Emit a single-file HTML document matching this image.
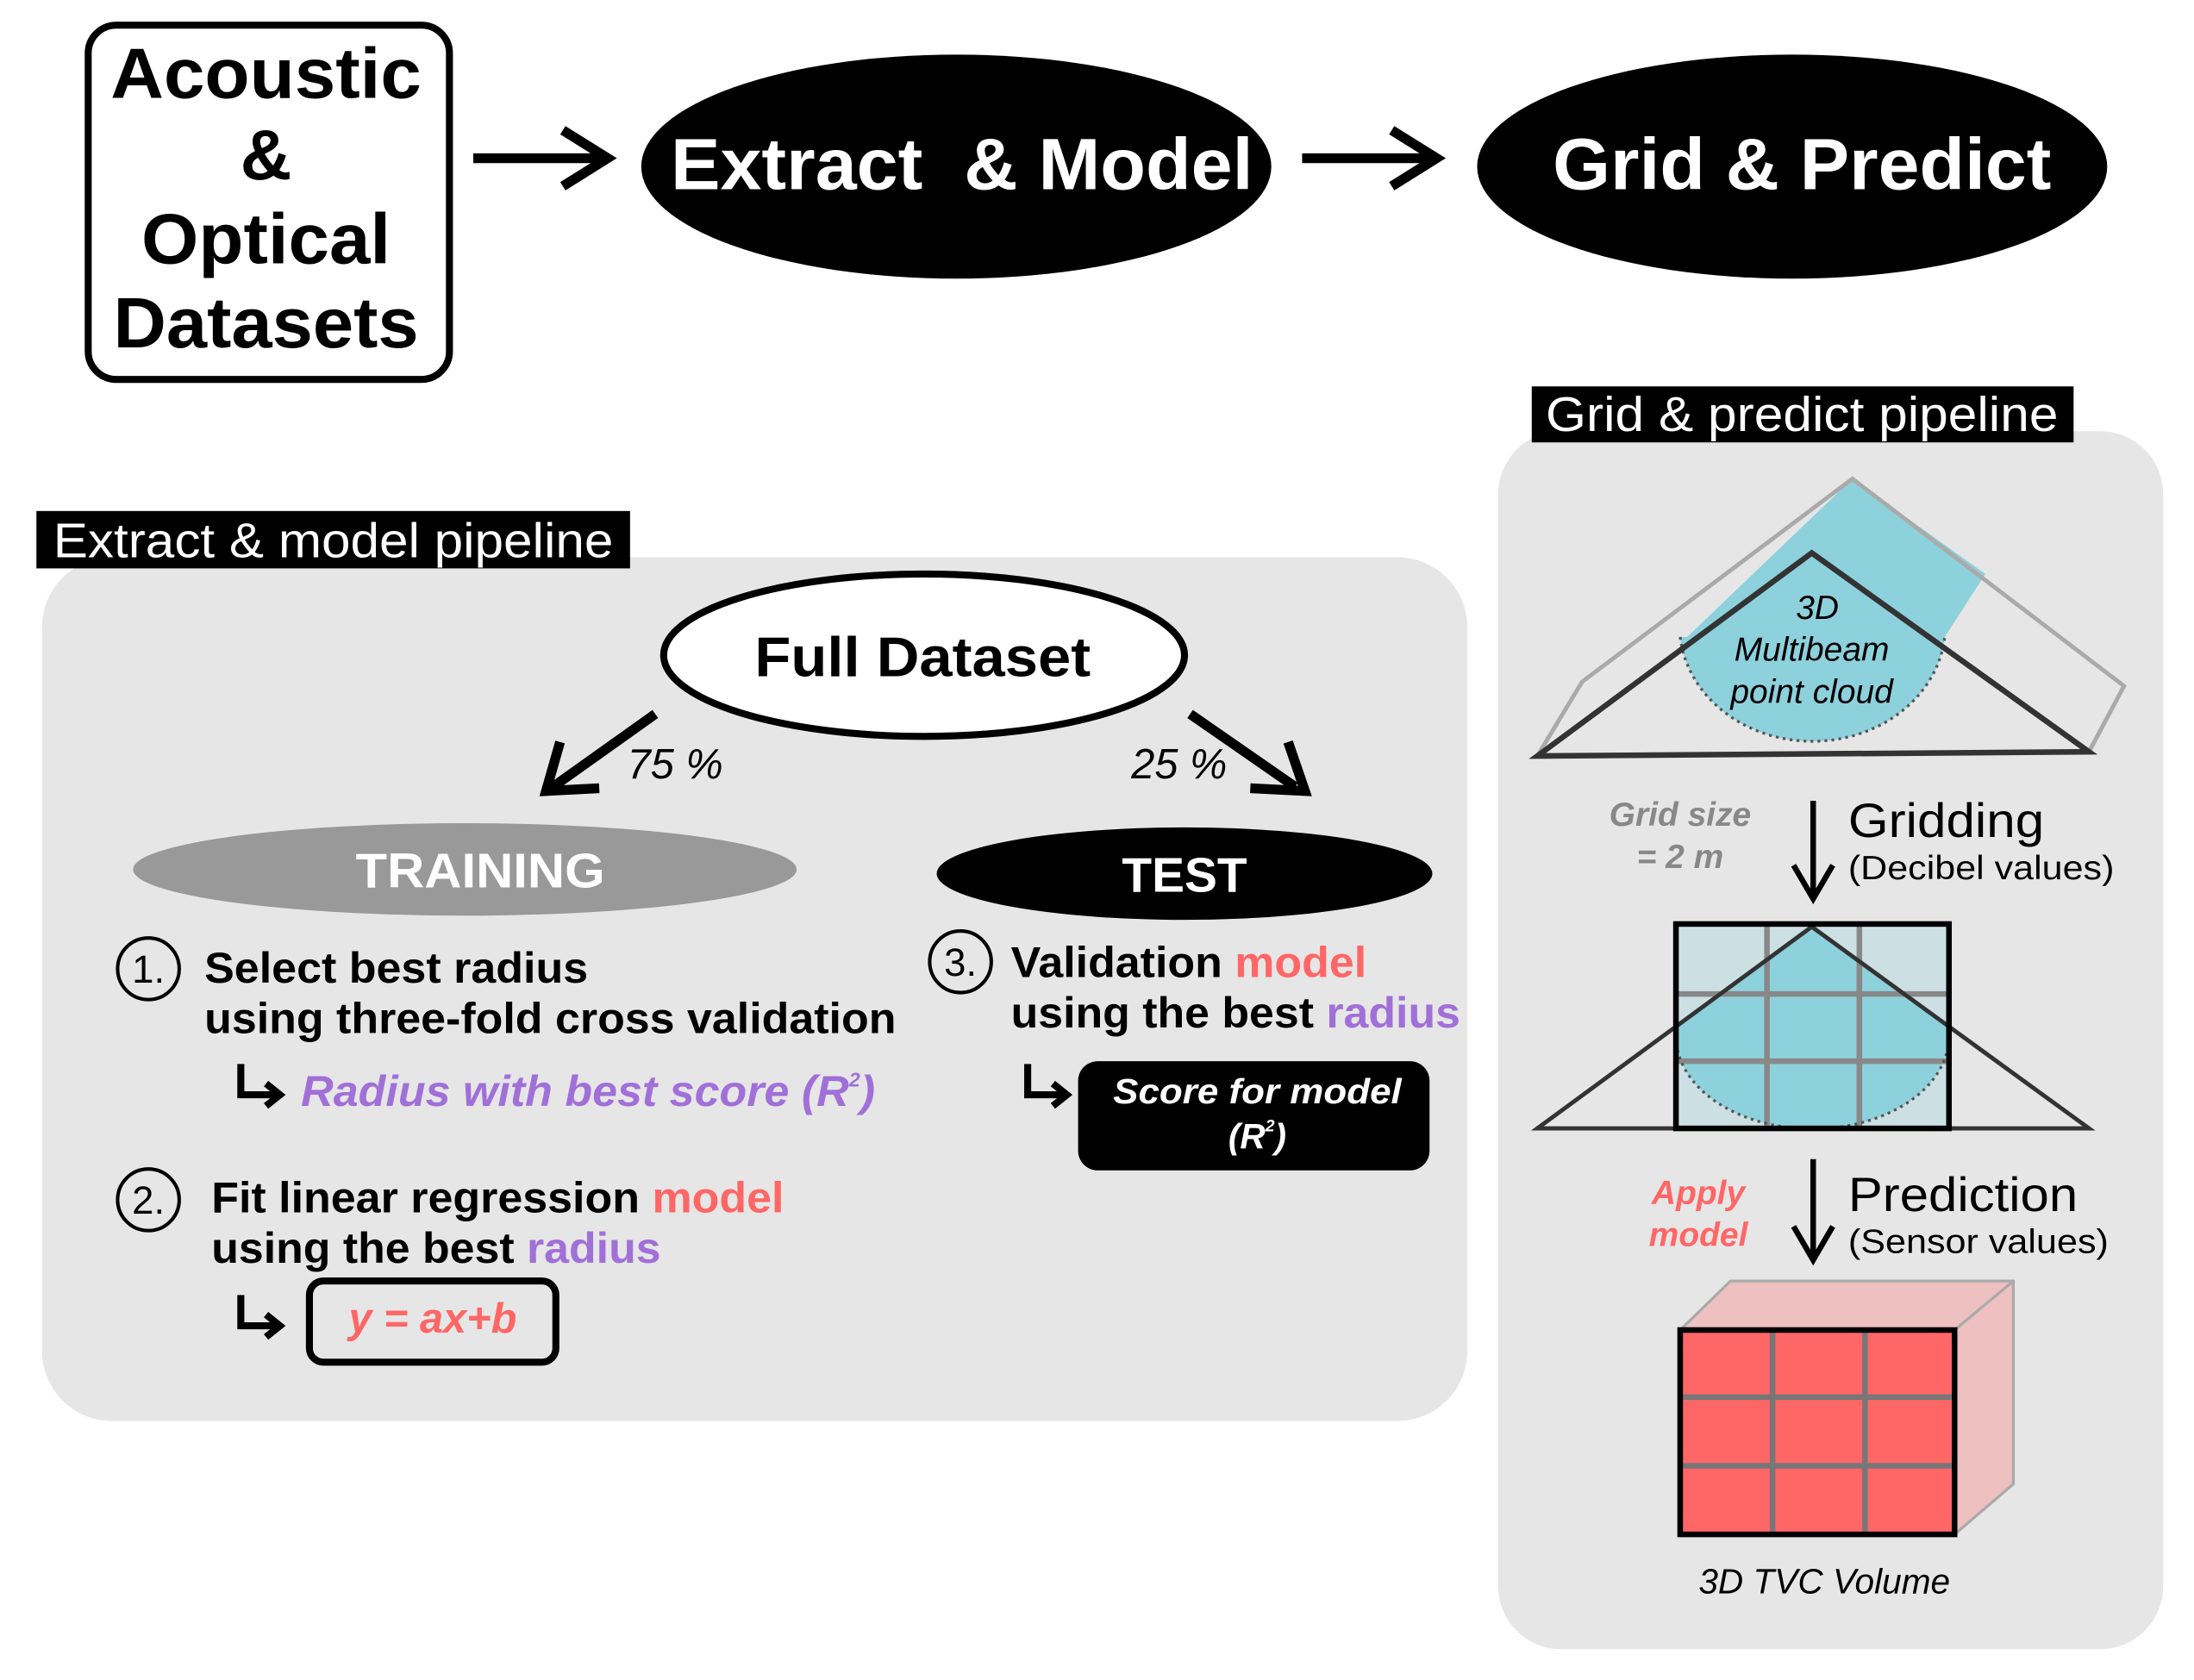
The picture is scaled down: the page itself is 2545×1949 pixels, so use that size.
<!DOCTYPE html>
<html><head><meta charset="utf-8"><style>
html,body{margin:0;padding:0;background:#fff;}
svg{display:block;}
text{font-family:"Liberation Sans",Arial,sans-serif;}
</style></head><body>
<svg width="2545" height="1949" viewBox="0 0 1567 1200" preserveAspectRatio="none" xmlns="http://www.w3.org/2000/svg">
<!-- top row -->
<rect x="63" y="18" width="258" height="253" rx="20" fill="#fff" stroke="#000" stroke-width="5"/>
<g font-weight="bold" font-size="51" text-anchor="middle">
<text x="190" y="70" textLength="222" lengthAdjust="spacingAndGlyphs">Acoustic</text>
<text x="190" y="128">&amp;</text>
<text x="190" y="188" textLength="178" lengthAdjust="spacingAndGlyphs">Optical</text>
<text x="190" y="248" textLength="218" lengthAdjust="spacingAndGlyphs">Datasets</text>
</g>
<g stroke="#000" stroke-width="7" fill="none">
<line x1="338" y1="113" x2="432" y2="113"/>
<polyline points="402,93 434,113 402,133"/>
<line x1="930" y1="113" x2="1024" y2="113"/>
<polyline points="994,93 1026,113 994,133"/>
</g>
<ellipse cx="683" cy="119" rx="225" ry="80" fill="#000"/>
<text x="687" y="135" font-size="52" font-weight="bold" fill="#fff" text-anchor="middle" textLength="416" lengthAdjust="spacingAndGlyphs">Extract &#160;&amp; Model</text>
<ellipse cx="1280" cy="119" rx="225" ry="80" fill="#000"/>
<text x="1287" y="135" font-size="52" font-weight="bold" fill="#fff" text-anchor="middle" textLength="356" lengthAdjust="spacingAndGlyphs">Grid &amp; Predict</text>

<!-- left panel -->
<rect x="30" y="398" width="1018" height="617" rx="50" fill="#e6e6e6"/>
<rect x="26" y="365" width="424" height="41" fill="#000"/>
<text x="238" y="398" font-size="35" fill="#fff" text-anchor="middle" textLength="400" lengthAdjust="spacingAndGlyphs">Extract &amp; model pipeline</text>
<ellipse cx="660" cy="468" rx="186" ry="58" fill="#fff" stroke="#000" stroke-width="5"/>
<text x="659" y="483" font-size="40" font-weight="bold" text-anchor="middle" textLength="240" lengthAdjust="spacingAndGlyphs">Full Dataset</text>
<g stroke="#000" stroke-width="7" fill="none">
<line x1="468" y1="510" x2="395" y2="562"/>
<polyline points="400,530 390,565 428,563"/>
<line x1="850" y1="510" x2="925" y2="562"/>
<polyline points="920,530 932,565 893,563"/>
</g>
<text x="448" y="556" font-size="30" font-style="italic">75 %</text>
<text x="808" y="556" font-size="30" font-style="italic">25 %</text>
<ellipse cx="332" cy="621" rx="237" ry="33" fill="#999"/>
<text x="343" y="634" font-size="35" font-weight="bold" fill="#fff" text-anchor="middle" textLength="178" lengthAdjust="spacingAndGlyphs">TRAINING</text>
<ellipse cx="846" cy="624" rx="177" ry="33" fill="#000"/>
<text x="846" y="637" font-size="35" font-weight="bold" fill="#fff" text-anchor="middle">TEST</text>

<g fill="none" stroke="#000" stroke-width="2.5">
<circle cx="106" cy="692" r="22"/><circle cx="106" cy="857" r="22"/><circle cx="686" cy="687" r="22"/>
</g>
<g font-size="28" text-anchor="middle"><text x="106" y="702">1.</text><text x="106" y="867">2.</text><text x="686" y="697">3.</text></g>
<g font-size="31" font-weight="bold">
<text x="146" y="702" textLength="274" lengthAdjust="spacingAndGlyphs">Select best radius</text>
<text x="146" y="738" textLength="494" lengthAdjust="spacingAndGlyphs">using three-fold cross validation</text>
<text x="151" y="866" textLength="409" lengthAdjust="spacingAndGlyphs">Fit linear regression <tspan fill="#ff6666">model</tspan></text>
<text x="151" y="902" textLength="321" lengthAdjust="spacingAndGlyphs">using the best <tspan fill="#a070d8">radius</tspan></text>
<text x="722" y="698" textLength="254" lengthAdjust="spacingAndGlyphs">Validation <tspan fill="#ff6666">model</tspan></text>
<text x="722" y="734" textLength="321" lengthAdjust="spacingAndGlyphs">using the best <tspan fill="#a070d8">radius</tspan></text>
</g>
<g stroke="#000" stroke-width="5" fill="none">
<polyline points="172,760 172,782 196,782"/><polyline points="190,774 200,782 190,790"/>
<polyline points="172,925 172,947 196,947"/><polyline points="190,939 200,947 190,955"/>
<polyline points="734,760 734,782 758,782"/><polyline points="752,774 762,782 752,790"/>
</g>
<text x="215" y="790" font-size="31" font-weight="bold" font-style="italic" fill="#a070d8" textLength="410" lengthAdjust="spacingAndGlyphs">Radius with best score (R<tspan font-size="14" dy="-14">2</tspan><tspan dy="14">)</tspan></text>
<rect x="221" y="915" width="176" height="58" rx="10" fill="none" stroke="#000" stroke-width="5"/>
<text x="309" y="952" font-size="30" font-weight="bold" font-style="italic" fill="#ff6666" text-anchor="middle">y = ax+b</text>
<rect x="770" y="758" width="251" height="78" rx="14" fill="#000"/>
<text x="898" y="788" font-size="25" font-weight="bold" font-style="italic" fill="#fff" text-anchor="middle" textLength="206" lengthAdjust="spacingAndGlyphs">Score for model</text>
<text x="898" y="820" font-size="25" font-weight="bold" font-style="italic" fill="#fff" text-anchor="middle">(R<tspan font-size="12" dy="-12">2</tspan><tspan dy="12">)</tspan></text>

<!-- right panel -->
<rect x="1070" y="308" width="475" height="870" rx="45" fill="#e6e6e6"/>
<rect x="1094" y="276" width="387" height="40" fill="#000"/>
<text x="1287" y="308" font-size="35" fill="#fff" text-anchor="middle" textLength="366" lengthAdjust="spacingAndGlyphs">Grid &amp; predict pipeline</text>
<path d="M1205,455 L1323,342 L1418,410 L1389,455 A95,83 0 0 1 1200,455 Z" fill="#8dd1dc"/>
<polyline points="1098,540 1130,487 1323,342 1517,490 1492,537" fill="none" stroke="#aaa" stroke-width="3"/>
<path d="M1200,455 A95,83 0 0 0 1389,455" fill="none" stroke="#555" stroke-width="2" stroke-dasharray="2,3"/>
<polygon points="1098,540 1294,395 1492,537" fill="none" stroke="#333" stroke-width="4"/>
<g font-size="24" font-style="italic" text-anchor="middle">
<text x="1298" y="442">3D</text><text x="1294" y="472">Multibeam</text><text x="1294" y="502">point cloud</text>
</g>
<g font-size="24" font-weight="bold" font-style="italic" fill="#888" text-anchor="middle">
<text x="1200" y="590">Grid size</text><text x="1200" y="620">= 2 m</text>
</g>
<g stroke="#000" stroke-width="4" fill="none">
<line x1="1295" y1="572" x2="1295" y2="640"/><polyline points="1281,618 1295,642 1309,618"/>
<line x1="1295" y1="828" x2="1295" y2="898"/><polyline points="1281,876 1295,900 1309,876"/>
</g>
<text x="1320" y="598" font-size="34" textLength="140" lengthAdjust="spacingAndGlyphs">Gridding</text>
<text x="1320" y="628" font-size="24" textLength="190" lengthAdjust="spacingAndGlyphs">(Decibel values)</text>
<rect x="1197" y="660" width="195" height="146" fill="#cce0e4"/>
<path d="M1197,735 L1294,662 L1392,735 L1392,740 A97,66 0 0 1 1197,740 Z" fill="#8dd1dc"/>
<g stroke="#888" stroke-width="4"><line x1="1262" y1="660" x2="1262" y2="806"/><line x1="1328" y1="660" x2="1328" y2="806"/><line x1="1197" y1="710" x2="1392" y2="710"/><line x1="1197" y1="758" x2="1392" y2="758"/></g>
<path d="M1197,740 A97,66 0 0 0 1392,740" fill="none" stroke="#555" stroke-width="2" stroke-dasharray="2,3"/>
<polygon points="1098,806 1294,662 1492,806" fill="none" stroke="#333" stroke-width="3"/>
<rect x="1197" y="660" width="195" height="146" fill="none" stroke="#000" stroke-width="4"/>
<g font-size="24" font-weight="bold" font-style="italic" fill="#ff6666" text-anchor="middle">
<text x="1213" y="860">Apply</text><text x="1213" y="890">model</text>
</g>
<text x="1320" y="865" font-size="34" textLength="164" lengthAdjust="spacingAndGlyphs">Prediction</text>
<text x="1320" y="895" font-size="24" textLength="186" lengthAdjust="spacingAndGlyphs">(Sensor values)</text>
<polygon points="1200,950 1236,915 1438,915 1438,1060 1396,1096 1396,950" fill="#eec0c0" stroke="#aaa" stroke-width="2"/>
<line x1="1396" y1="950" x2="1438" y2="915" stroke="#aaa" stroke-width="2"/>
<rect x="1200" y="950" width="196" height="146" fill="#ff6666"/>
<g stroke="#777" stroke-width="4"><line x1="1266" y1="950" x2="1266" y2="1096"/><line x1="1332" y1="950" x2="1332" y2="1096"/><line x1="1200" y1="998" x2="1396" y2="998"/><line x1="1200" y1="1047" x2="1396" y2="1047"/></g>
<rect x="1200" y="950" width="196" height="146" fill="none" stroke="#000" stroke-width="4"/>
<text x="1303" y="1138" font-size="25" font-style="italic" text-anchor="middle">3D TVC Volume</text>
</svg>
</body></html>
